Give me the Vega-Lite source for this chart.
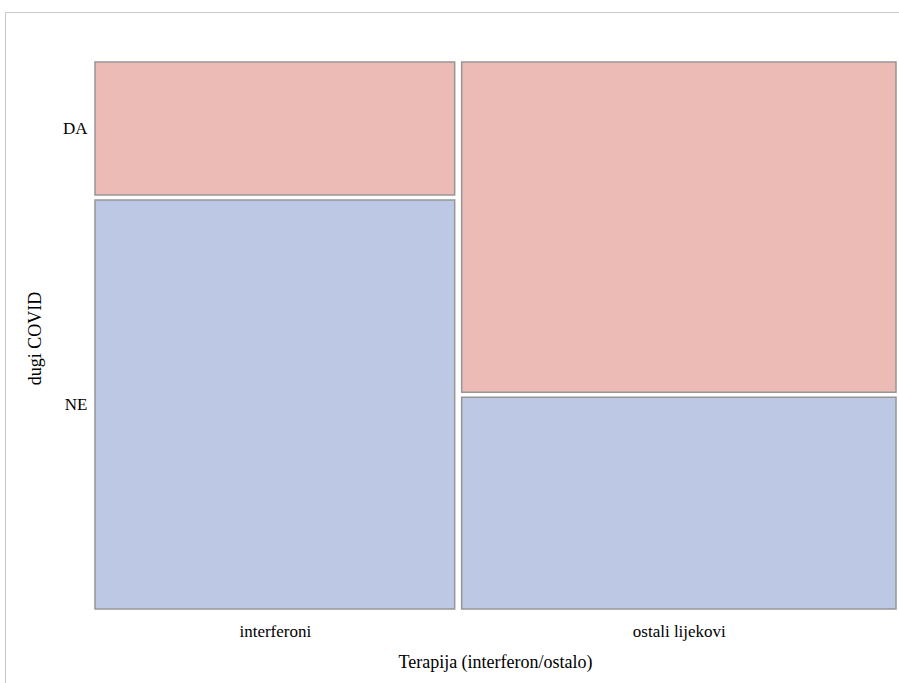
{
  "$schema": "https://vega.github.io/schema/vega-lite/v6.json",
  "width": 894,
  "height": 671,
  "autosize": {"type": "none"},
  "padding": {"left": 5, "top": 12, "right": 0, "bottom": 0},
  "background": "white",
  "config": {
    "view": {"stroke": "#c8c8c8", "strokeWidth": 1},
    "font": "Liberation Serif"
  },
  "data": {
    "values": [
      {"therapy": "interferoni", "covid": "DA", "count": 13},
      {"therapy": "interferoni", "covid": "NE", "count": 40},
      {"therapy": "ostali lijekovi", "covid": "DA", "count": 39},
      {"therapy": "ostali lijekovi", "covid": "NE", "count": 25}
    ]
  },
  "transform": [
    {"stack": "count", "groupby": [], "as": ["sx0", "sx1"], "offset": "normalize", "sort": [{"field": "therapy", "order": "ascending"}]},
    {"window": [{"op": "min", "field": "sx0", "as": "x0"}, {"op": "max", "field": "sx1", "as": "x1"}], "groupby": ["therapy"], "frame": [null, null]},
    {"window": [{"op": "dense_rank", "as": "rT"}], "sort": [{"field": "therapy", "order": "ascending"}], "frame": [null, null]},
    {"stack": "count", "groupby": ["therapy"], "as": ["sy0", "sy1"], "offset": "normalize", "sort": [{"field": "covid", "order": "descending"}]},
    {"calculate": "datum.x0 + (datum.rT - 1) * 0.008816", "as": "nx"},
    {"calculate": "datum.x1 + (datum.rT - 1) * 0.008816", "as": "nx2"},
    {"calculate": "datum.sy0 + (datum.covid == 'DA' ? 0.009225 : 0)", "as": "ny"},
    {"calculate": "datum.sy1 + (datum.covid == 'DA' ? 0.009225 : 0)", "as": "ny2"}
  ],
  "mark": {"type": "rect", "stroke": "#969696", "strokeWidth": 1.5},
  "encoding": {
    "x": {
      "field": "nx", "type": "quantitative",
      "scale": {"domain": [-0.11335, 1.012594], "nice": false, "zero": false},
      "axis": {
        "orient": "bottom", "offset": -72, "domain": false, "ticks": false, "grid": false,
        "values": [0.2265, 0.7353],
        "labelExpr": "datum.value < 0.5 ? 'interferoni' : 'ostali lijekovi'",
        "labelFont": "Liberation Serif", "labelFontSize": 17, "labelColor": "#000000", "labelPadding": 12,
        "title": "Terapija (interferon/ostalo)", "titleFont": "Liberation Serif", "titleFontSize": 18,
        "titleFontWeight": "normal", "titleColor": "#000000", "titlePadding": 14, "titleX": 490
      }
    },
    "x2": {"field": "nx2"},
    "y": {
      "field": "ny", "type": "quantitative",
      "scale": {"domain": [-0.136531, 1.101476], "nice": false, "zero": false},
      "axis": {
        "orient": "left", "offset": -87, "domain": false, "ticks": false, "grid": false,
        "values": [0.37736, 0.88658],
        "labelExpr": "datum.value < 0.5 ? 'NE' : 'DA'",
        "labelFont": "Liberation Serif", "labelFontSize": 17, "labelColor": "#000000", "labelPadding": 5,
        "title": "dugi COVID", "titleFont": "Liberation Serif", "titleFontSize": 18,
        "titleFontWeight": "normal", "titleColor": "#000000", "titlePadding": 18, "titleY": 326
      }
    },
    "y2": {"field": "ny2"},
    "color": {
      "field": "covid", "type": "nominal",
      "scale": {"domain": ["DA", "NE"], "range": ["#EDBBB6", "#BDC8E4"]},
      "legend": null
    }
  }
}
